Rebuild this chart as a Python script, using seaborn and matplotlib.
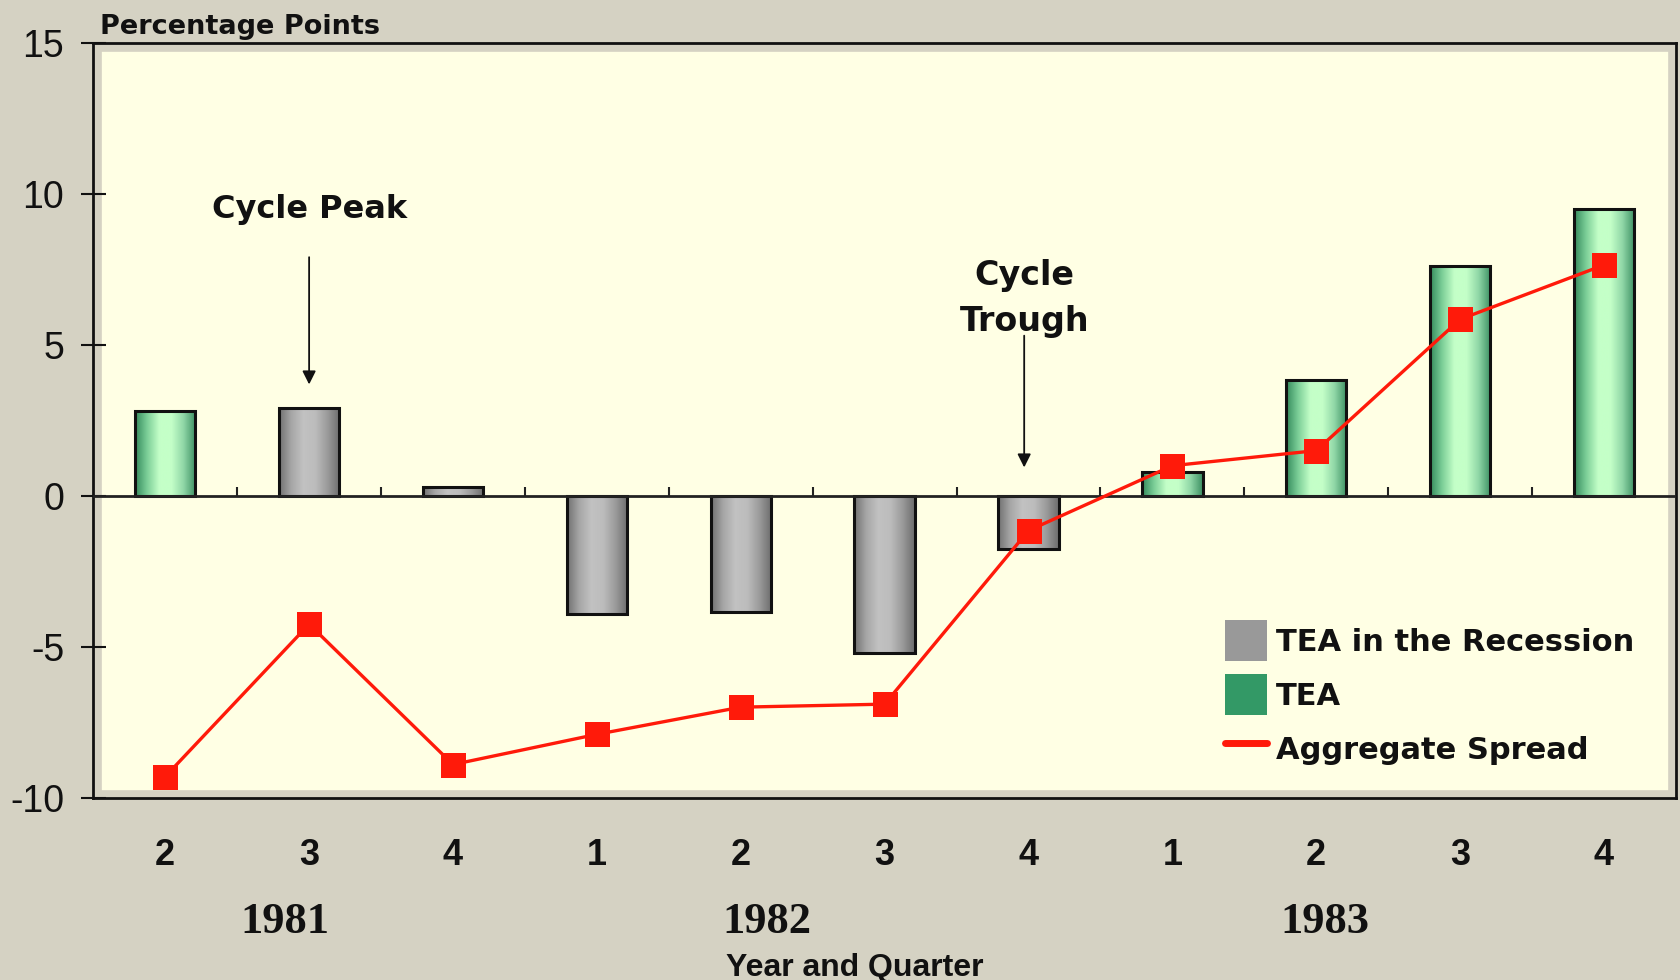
import matplotlib
matplotlib.use("Agg")
import matplotlib.pyplot as plt
import numpy as np
import pandas as pd
import seaborn as sns
from matplotlib.colors import LinearSegmentedColormap
from matplotlib.patches import Patch
from matplotlib.lines import Line2D
from matplotlib.transforms import blended_transform_factory

periods = ["1981Q2", "1981Q3", "1981Q4", "1982Q1", "1982Q2", "1982Q3",
           "1982Q4", "1983Q1", "1983Q2", "1983Q3", "1983Q4"]
quarters = ["2", "3", "4", "1", "2", "3", "4", "1", "2", "3", "4"]
tea = [2.8, 2.9, 0.3, -3.9, -3.85, -5.2, -1.75, 0.8, 3.85, 7.6, 9.5]
spread = [-9.3, -4.25, -8.9, -7.9, -7.0, -6.9, -1.15, 1.0, 1.5, 5.85, 7.65]
in_recession = [False, True, True, True, True, True, True, False, False, False, False]
years = ["1981", "1982", "1983"]
year_pos = [0.83, 4.18, 8.06]

df = pd.DataFrame({"period": periods, "tea": tea, "spread": spread,
                   "phase": ["TEA in the Recession" if r else "TEA" for r in in_recession]})

fig_bg = "#d5d2c3"
plot_bg = "#ffffe4"
ink = "#111111"

sns.set_style("white")
fig = plt.figure(figsize=(16.81, 9.8), dpi=100, facecolor=fig_bg)
ax = fig.add_axes([0.0555, 0.186, 0.9415, 0.770])
ax.set_facecolor(plot_bg)

sns.barplot(data=df, x="period", y="tea", hue="phase",
            palette={"TEA in the Recession": "#999999", "TEA": "#339966"},
            dodge=False, width=0.42, legend=False, ax=ax)

# cylinder-like shading on each bar
green_cm = LinearSegmentedColormap.from_list(
    "g", ["#34895b", "#7ccf98", "#c4ffc8", "#c4ffc8", "#8fd6a6", "#3b8f62"])
gray_cm = LinearSegmentedColormap.from_list(
    "k", ["#707070", "#a6a6a6", "#c2c2c2", "#bcbcbc", "#9a9a9a", "#6c6c6c"])
grad = np.linspace(0, 1, 256).reshape(1, -1)
for bar in ax.patches:
    x0, w = bar.get_x(), bar.get_width()
    y0, h = bar.get_y(), bar.get_height()
    idx = int(round(x0 + w / 2))
    im = ax.imshow(grad, cmap=gray_cm if in_recession[idx] else green_cm, aspect="auto",
                   extent=[x0, x0 + w, y0, y0 + h], zorder=2, interpolation="bicubic")
    im.set_clip_path(bar)
    bar.set_facecolor("none")
    bar.set_edgecolor(ink)
    bar.set_linewidth(2.2)
    bar.set_zorder(3)

xs = np.arange(len(periods))
ax.axhline(0, color="#222222", lw=2, zorder=4)
ax.vlines(xs[:-1] + 0.5, 0, 0.3, color="#222222", lw=1.5, zorder=4)

sns.lineplot(x=xs, y=spread, color="#ff1a0a", lw=2.4, marker="s", markersize=18,
             markeredgewidth=0, ax=ax, zorder=6)

ax.set_xlim(-0.5, len(periods) - 0.5)
ax.set_ylim(-10, 15)
ax.set_yticks([-10, -5, 0, 5, 10, 15])
ax.set_yticklabels(["-10", "-5", "0", "5", "10", "15"])
ax.tick_params(axis="y", direction="inout", length=18, width=1.5, color=ink,
               labelsize=27, pad=12, left=True, labelcolor=ink)
ax.set_xticks(xs)
ax.set_xticklabels(quarters)
ax.tick_params(axis="x", length=0, pad=29, labelsize=26, labelcolor=ink)
for lab in ax.get_xticklabels():
    lab.set_family(["Liberation Sans", "DejaVu Sans"])
    lab.set_fontweight("bold")
for lab in ax.get_yticklabels():
    lab.set_family(["Liberation Sans", "DejaVu Sans"])
ax.set_xlabel("")
ax.set_ylabel("")
for s in ax.spines.values():
    s.set_visible(True)
    s.set_color(ink)
    s.set_linewidth(2)
ax.patch.set_edgecolor(fig_bg)
ax.patch.set_linewidth(12)

ax.text(0.004, 1.004, "Percentage Points", transform=ax.transAxes, ha="left", va="bottom",
        fontsize=19.5, fontweight="bold", color=ink)

ax.annotate("", xy=(1, 3.6), xytext=(1, 8.0),
            arrowprops=dict(arrowstyle="-|>", color=ink, lw=1.3, mutation_scale=20))
ax.text(1, 9.5, "Cycle Peak", ha="center", va="center", fontsize=23, fontweight="bold",
        color=ink)
ax.annotate("", xy=(5.97, 0.85), xytext=(5.97, 5.4),
            arrowprops=dict(arrowstyle="-|>", color=ink, lw=1.3, mutation_scale=20))
ax.text(5.97, 6.55, "Cycle\nTrough", ha="center", va="center", fontsize=24,
        fontweight="bold", color=ink, linespacing=1.5)

trans = blended_transform_factory(ax.transData, fig.transFigure)
for yr, xp in zip(years, year_pos):
    ax.text(xp, 1 - 922 / 980, yr, transform=trans, ha="center", va="center",
            fontsize=32, fontweight="bold", family=["Liberation Serif", "DejaVu Serif"],
            color=ink)
ax.text(4.79, 1 - 953 / 980, "Year and Quarter", transform=trans, ha="center", va="top",
        fontsize=23, fontweight="bold", family=["Liberation Sans", "DejaVu Sans"],
        color=ink)

handles = [Patch(facecolor="#999999", edgecolor="none", label="TEA in the Recession"),
           Patch(facecolor="#339966", edgecolor="none", label="TEA"),
           Line2D([0], [0], color="#ff1a0a", lw=5, label="Aggregate Spread")]
ax.legend(handles=handles, loc="upper left", bbox_to_anchor=(0.698, 0.272), frameon=False,
          prop={"weight": "bold", "size": 22}, handlelength=1.35,
          handleheight=1.7, handletextpad=0.3, labelspacing=0.42, labelcolor=ink)

fig.savefig("out.png", dpi=100, facecolor=fig_bg)
